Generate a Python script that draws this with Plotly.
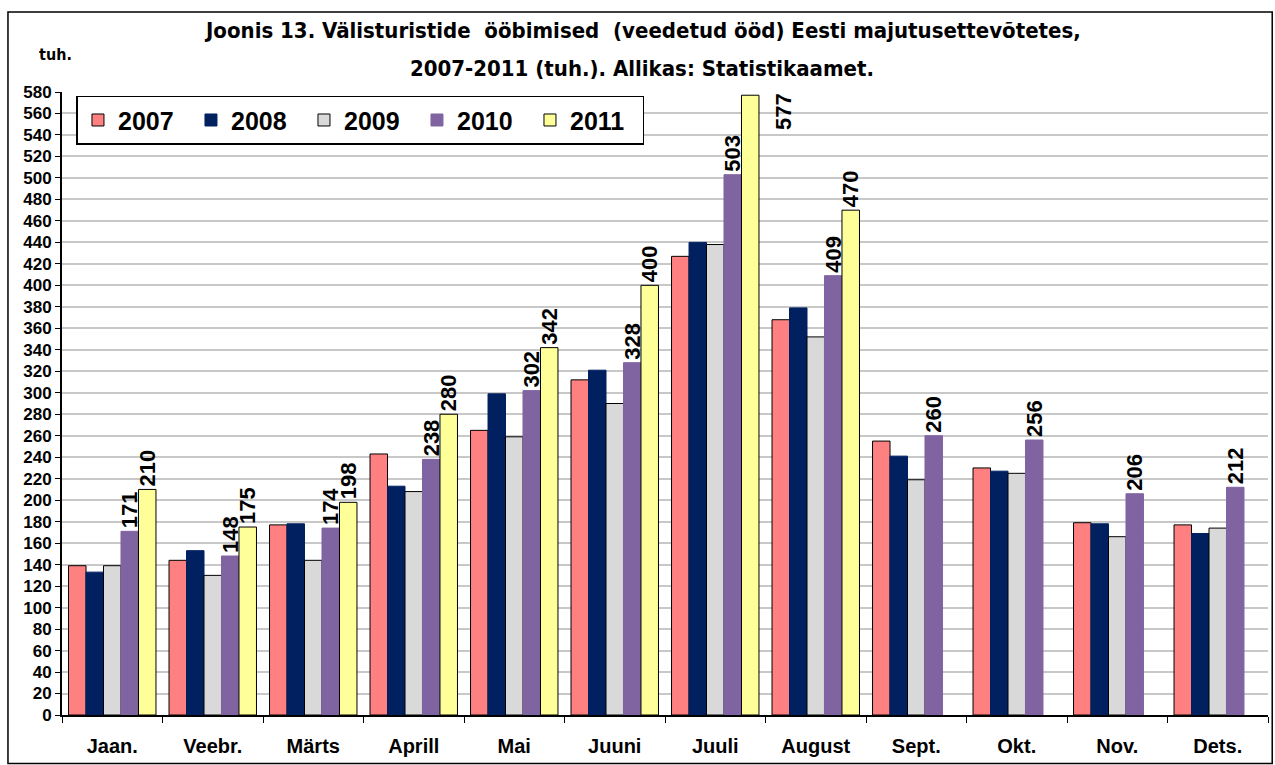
import plotly.graph_objects as go

months = ["Jaan.", "Veebr.", "Märts", "Aprill", "Mai", "Juuni", "Juuli",
          "August", "Sept.", "Okt.", "Nov.", "Dets."]
years = ["2007", "2008", "2009", "2010", "2011"]

v2007 = [139, 144, 177, 243, 265, 312, 427, 368, 255, 230, 179, 177]
v2008 = [133, 153, 178, 213, 299, 321, 440, 379, 241, 227, 178, 169]
v2009 = [139, 130, 144, 208, 259, 290, 438, 352, 219, 225, 166, 174]
v2010 = [171, 148, 174, 238, 302, 328, 503, 409, 260, 256, 206, 212]
v2011 = [210, 175, 198, 280, 342, 400, 577, 470, None, None, None, None]

series = [v2007, v2008, v2009, v2010, v2011]
colors = ["#FF8080", "#002060", "#D9D9D9", "#8064A2", "#FFFF99"]
line_colors = ["#000000", "#002060", "#000000", "#8064A2", "#000000"]
labelled = [False, False, False, True, True]

y_ticks = list(range(0, 581, 20))

ARIAL = "Liberation Sans, Arial, sans-serif"
NARROW = "Liberation Sans Narrow, DejaVu Sans Condensed, sans-serif"

fig = go.Figure()
for i, (yr, vals) in enumerate(zip(years, series)):
    kw = {}
    if labelled[i]:
        texts = [("" if v is None else str(v)) for v in vals]
        positions = []
        for v in vals:
            if v is not None and v > 560:
                positions.append("none")
            else:
                positions.append("outside")
        kw = dict(text=texts, textposition=positions, textangle=-90,
                  textfont=dict(family=ARIAL, size=22, color="black", weight="bold"),
                  constraintext="none", cliponaxis=False)
    fig.add_trace(go.Bar(
        name=yr, x=months, y=vals,
        marker=dict(color=colors[i], line=dict(color=line_colors[i], width=1)),
        **kw))

# label for the bar exceeding the axis top, placed beside it
peak = max(v for v in v2011 if v is not None)
peak_month = months[v2011.index(peak)]
fig.add_annotation(x=peak_month, y=peak, xref="x", yref="y", text=str(peak),
                   textangle=-90, showarrow=False, xshift=68, yanchor="top", yshift=4,
                   font=dict(family=ARIAL, size=22, color="black", weight="bold"))

fig.add_annotation(x=0.481, y=1.0995, xref="paper", yref="paper", showarrow=False,
                   text="Joonis 13. Välisturistide  ööbimised  (veedetud ööd) Eesti majutusettevõtetes,",
                   font=dict(family=NARROW, size=22, color="black", weight="bold"),
                   yanchor="middle")
fig.add_annotation(x=0.481, y=1.0385, xref="paper", yref="paper", showarrow=False,
                   text="2007-2011 (tuh.). Allikas: Statistikaamet.",
                   font=dict(family=NARROW, size=22, color="black", weight="bold"),
                   yanchor="middle")
fig.add_annotation(x=-0.0207, y=1.0594, xref="paper", yref="paper", showarrow=False,
                   text="tuh.", font=dict(family=NARROW, size=16, color="black", weight="bold"),
                   yanchor="middle")

fig.add_shape(type="rect", xref="paper", yref="paper",
              x0=-0.0448, x1=1.0035, y0=-0.078, y1=1.1284,
              line=dict(color="black", width=1.5), fillcolor="rgba(0,0,0,0)", layer="above")

fig.update_layout(
    width=1275, height=765,
    margin=dict(l=62, r=7, t=92, b=50),
    paper_bgcolor="white", plot_bgcolor="white",
    barmode="group", bargap=0.13, bargroupgap=0,
    showlegend=True,
    legend=dict(orientation="h", x=0.012, y=0.994, xanchor="left", yanchor="top",
                bgcolor="white", bordercolor="black", borderwidth=1.5,
                font=dict(family=ARIAL, size=25, color="black", weight="bold"),
                entrywidth=68, entrywidthmode="pixels", itemclick=False),
    xaxis=dict(showline=True, linecolor="black", linewidth=2,
               ticks="outside", tickson="boundaries", ticklen=6, tickcolor="black",
               tickfont=dict(family=ARIAL, size=20, color="black", weight="bold"),
               ticklabelstandoff=12, showgrid=False),
    yaxis=dict(range=[0, 580], tickvals=y_ticks, showline=True, linecolor="black",
               linewidth=2, ticks="outside", ticklen=5, tickcolor="black",
               tickfont=dict(family=ARIAL, size=17, color="black", weight="bold"),
               gridcolor="#C8C8C8", gridwidth=1.5, zeroline=False),
)

fig.write_html("out.html", config={"displayModeBar": False},
               post_script="document.body.style.margin='0';document.body.style.overflow='hidden';")
